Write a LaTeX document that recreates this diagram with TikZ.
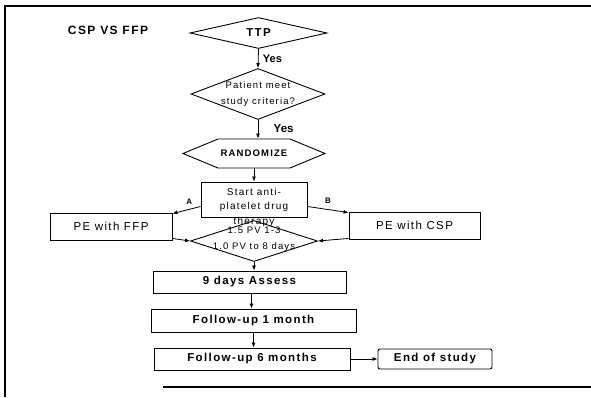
\documentclass[tikz,border=0pt]{standalone}
\usepackage{fontspec}
\setmainfont{Liberation Sans}
\newfontfamily\spaced{Liberation Sans}[LetterSpace=12]
\usetikzlibrary{
	arrows.meta,
	shapes.geometric,
	shapes.symbols,
	positioning
}

\tikzset{
	flowbox/.style={draw, line width=0.9pt, inner sep=0pt, align=center, fill=white},
	decision/.style={draw, diamond, line width=0.9pt, inner sep=0pt},
	boxtext/.style={font=\spaced\fontsize{11.5}{13}\selectfont},
	boldtext/.style={font=\spaced\bfseries\fontsize{11.5}{13}\selectfont},
	smalltext/.style={font=\spaced\fontsize{9.5}{15.5}\selectfont, align=center},
	arr/.style={line width=0.8pt, -{Latex[length=5pt,width=4pt]}},
	frame/.style={line width=1.8pt}
}

\begin{document}
\begin{tikzpicture}[x=1pt, y=-1pt]
		\useasboundingbox (0,0) rectangle (591,397);
		% frame of the scan
		\draw[frame] (591,6) -- (5,6) -- (5,397);
		\draw[frame] (163,387) -- (591,387);
		\node[boldtext, font=\spaced\bfseries\fontsize{12}{14}\selectfont] (title) at (108,30) {CSP VS FFP};
		% top part
		\node[decision, aspect=4.4, minimum width=137pt, minimum height=31pt, boldtext] (ttp) at (258.5,33) {TTP};
		\node[decision, minimum width=134pt, minimum height=51pt,
			label={[smalltext]center:Patient meet\\study criteria?}] (patient) at (258,94) {};
		\node[draw, signal, signal to=west and east, signal pointer angle=45, line width=0.9pt,
			inner sep=0pt, minimum width=142pt, minimum height=29pt,
			font=\spaced\bfseries\fontsize{9.5}{11}\selectfont] (rand) at (254,153.5) {RANDOMIZE};
		% treatment
		\node[decision, minimum width=127pt, minimum height=41pt] (dose) at (254,241) {};
		\node[smalltext, font=\spaced\fontsize{9.5}{16}\selectfont] (doselbl) at (254,239) {1.5 PV 1-3\\1.0 PV to 8 days};
		\node[flowbox, boxtext, font=\spaced\fontsize{10}{14}\selectfont, minimum width=106pt, minimum height=35pt,
			label={[smalltext, font=\spaced\fontsize{10}{12}\selectfont, anchor=center, yshift=-4pt]south:therapy}] (start) at (254,199.5) {Start anti-\\platelet drug};
		\node[flowbox, boxtext, minimum width=122pt, minimum height=27pt] (ffp) at (111,226.5) {PE with FFP};
		\node[flowbox, boxtext, minimum width=131pt, minimum height=27pt] (csp) at (414.5,225.5) {PE with CSP};
		% follow-up
		\node[flowbox, boldtext, minimum width=193pt, minimum height=22pt] (assess) at (249.5,282) {9 days Assess};
		\node[flowbox, boldtext, minimum width=205pt, minimum height=23pt] (fu1) at (253.5,320.5) {Follow-up 1 month};
		\node[flowbox, boldtext, minimum width=196pt, minimum height=22pt] (fu6) at (252,359) {Follow-up 6 months};
		\node[flowbox, boldtext, rounded corners=2pt, minimum width=114pt, minimum height=20pt] (end) at (435,359) {End of study};
		% connectors
		\draw[arr] (ttp.south) -- (patient.north) node[pos=0.5, right=1pt, boldtext, font=\bfseries\fontsize{11}{13}\selectfont] (yes1) {Yes};
		\draw[arr] (patient.south) -- (patient.south |- rand.north) node[pos=0.45, right=12pt, boldtext, font=\bfseries\fontsize{11.5}{13}\selectfont] (yes2) {Yes};
		\draw[arr] (rand.south) -- (start.north);
		\draw[arr] ([yshift=-7pt]start.west) -- ([yshift=-1pt]ffp.north east) node[pos=0.4, above=1pt, font=\bfseries\fontsize{8}{9}\selectfont] (a) {A};
		\draw[arr] ([yshift=-7pt]start.east) -- ([yshift=-1pt]csp.north west) node[pos=0.5, above=2pt, font=\bfseries\fontsize{8}{9}\selectfont] (b) {B};
		\draw[arr] ([yshift=2pt]ffp.south east) -- (dose.west);
		\draw[arr] ([yshift=1pt]csp.south west) -- (dose.east);
		\draw[arr] (dose.south) -- (dose.south |- assess.north);
		\draw[arr] ([xshift=2pt]assess.south) -- ([xshift=2pt]assess.south |- fu1.north);
		\draw[arr] (fu1.south) -- (fu1.south |- fu6.north);
		\draw[arr] (fu6.east) -- (end.west);
	\end{tikzpicture}
\end{document}
